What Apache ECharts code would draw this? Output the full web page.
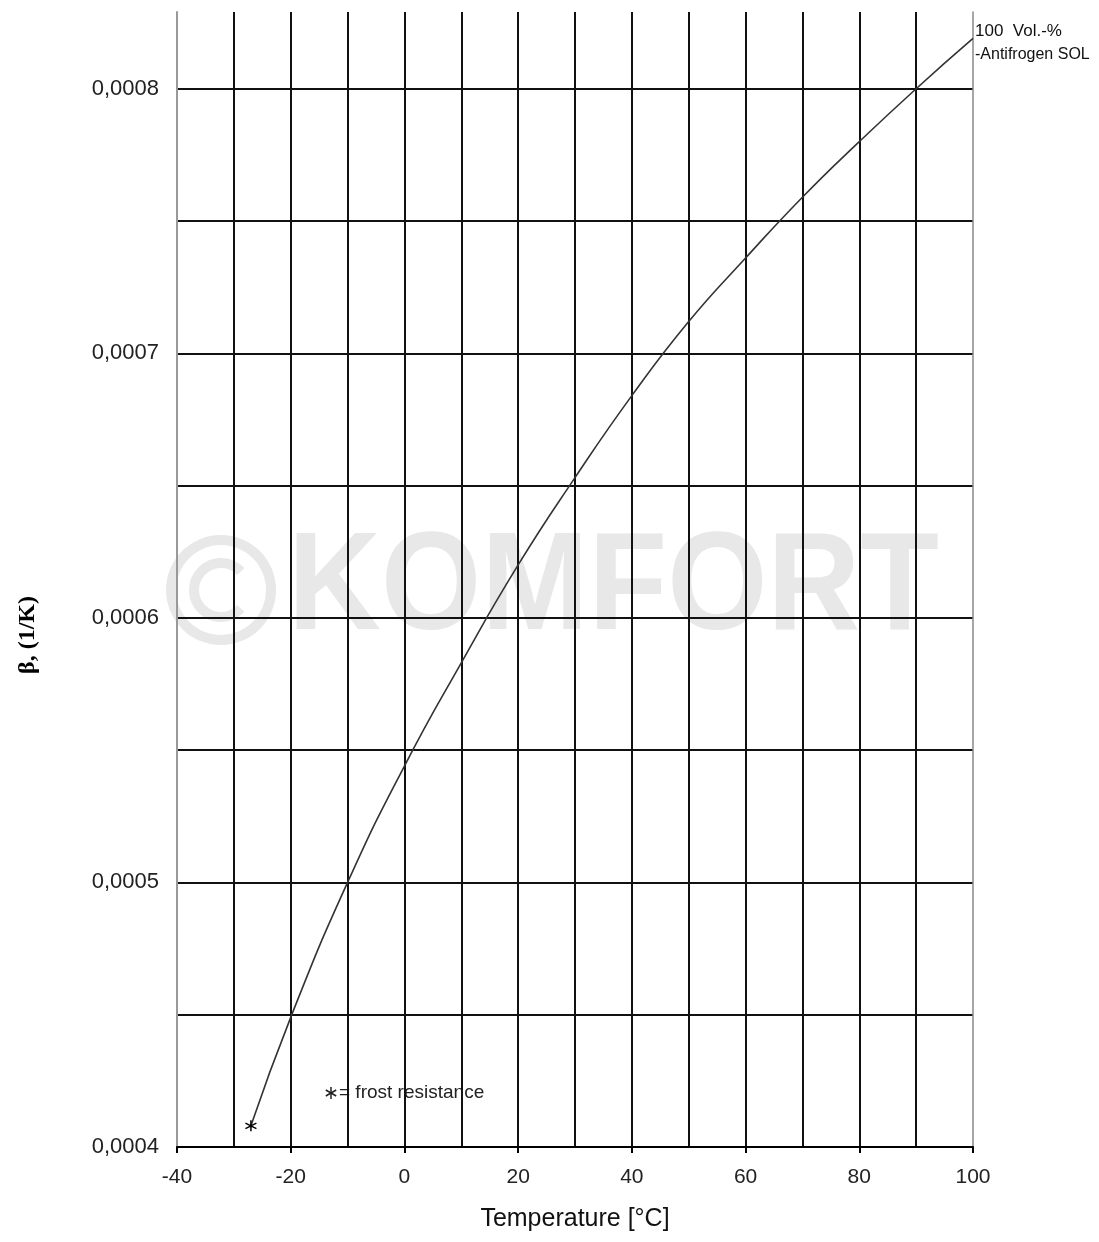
<!DOCTYPE html>
<html>
<head>
<meta charset="utf-8">
<title>Antifrogen SOL - beta</title>
<script src="https://cdn.jsdelivr.net/npm/echarts@6/dist/echarts.min.js"></script>
<style>
  html, body { margin: 0; padding: 0; background: #ffffff; }
  #chart { width: 1099px; height: 1242px; }
</style>
</head>
<body>
<div id="chart"></div>
<script>
// temperature (°C) and volume expansion coefficient beta (1/K)
const temperatures = [-27, -20, -10, 0, 10, 20, 30, 40, 50, 60, 70, 80, 90, 100];
const betaValues = [0.000408, 0.000449, 0.0005, 0.000544, 0.000583, 0.00062, 0.000653, 0.000684, 0.000712, 0.000736, 0.000759, 0.00078, 0.0008, 0.000819];

const seriesLabel = ['100  Vol.-%', '-Antifrogen SOL'];
const frostNote = '= frost resistance';
const yTitle = 'β, (1/K)';

const chart = echarts.init(document.getElementById('chart'));

const starPath = 'path://M0,-1L0,1M-0.87,-0.5L0.87,0.5M-0.87,0.5L0.87,-0.5';

const lineData = temperatures.map(function (t, i) {
    if (i === 0) {
        // erster Punkt = Frostgrenze, mit Stern
        return {
            value: [t, betaValues[i]],
            symbol: starPath,
            symbolSize: 11,
            itemStyle: { color: '#000', borderColor: '#000', borderWidth: 1.5 }
        };
    }
    return { value: [t, betaValues[i]], symbol: 'none' };
});

const option = {
    backgroundColor: '#ffffff',
    animation: false,
    grid: {
        left: 177,
        right: 126,
        top: 12,
        bottom: 95
    },
    xAxis: {
        type: 'value',
        min: -40,
        max: 100,
        interval: 20,
        name: 'Temperature [°C]',
        nameLocation: 'middle',
        nameGap: 60,
        nameTextStyle: { color: '#111', fontSize: 25, fontFamily: 'Liberation Sans' },
        axisLine: { show: true, onZero: false, lineStyle: { color: '#000', width: 2 } },
        axisTick: { show: true, length: 6, lineStyle: { color: '#000', width: 2 } },
        axisLabel: { color: '#222', fontSize: 21, fontFamily: 'Liberation Sans', margin: 20 },
        splitLine: { show: true, showMinLine: false, showMaxLine: false, lineStyle: { color: '#111', width: 2 } },
        minorTick: { show: false, splitNumber: 2 },
        minorSplitLine: { show: true, lineStyle: { color: '#111', width: 2 } }
    },
    yAxis: [{
        type: 'value',
        min: 0.0004,
        max: 0.000829,
        interval: 0.00005,
        axisLine: { show: true, onZero: false, lineStyle: { color: '#999', width: 2 } },
        axisTick: { show: false },
        axisLabel: {
            color: '#222',
            fontSize: 22,
            fontFamily: 'Liberation Sans',
            margin: 18,
            formatter: function (v) {
                const n = Math.round(v * 1e5);
                if (n % 10 !== 0) return '';
                return v.toFixed(4).replace('.', ',');
            }
        },
        splitLine: { show: true, showMinLine: false, showMaxLine: false, lineStyle: { color: '#111', width: 2 } }
    }, {
        type: 'value',
        position: 'right',
        min: 0.0004,
        max: 0.000829,
        interval: 0.00005,
        axisLine: { show: true, onZero: false, lineStyle: { color: '#888', width: 1.5 } },
        axisTick: { show: false },
        axisLabel: { show: false },
        splitLine: { show: false }
    }],
    graphic: [
        // Wasserzeichen
        {
            type: 'ring',
            z: -10,
            silent: true,
            shape: { cx: 221, cy: 590, r: 55, r0: 45 },
            style: { fill: '#e8e8e8' }
        },
        {
            type: 'arc',
            z: -10,
            silent: true,
            shape: { cx: 221, cy: 590, r: 27, startAngle: 0.75, endAngle: -0.75, clockwise: true },
            style: { fill: null, stroke: '#e8e8e8', lineWidth: 10 }
        },
        {
            type: 'text',
            z: -10,
            silent: true,
            x: 288,
            y: 590,
            scaleX: 0.92,
            style: {
                text: 'KOMFORT',
                fill: '#e8e8e8',
                font: 'bold 140px "Liberation Sans"',
                verticalAlign: 'middle'
            }
        },
        // y-Achsentitel
        {
            type: 'text',
            x: 28,
            y: 635,
            rotation: Math.PI / 2,
            style: {
                text: yTitle,
                fill: '#000',
                font: 'bold 24px "Liberation Serif"',
                align: 'center',
                verticalAlign: 'middle'
            }
        },
        // Kurvenbeschriftung oben rechts
        {
            type: 'text',
            x: 975,
            y: 31,
            style: { text: seriesLabel[0], fill: '#111', font: '17px "Liberation Sans"', verticalAlign: 'middle' }
        },
        {
            type: 'text',
            x: 975,
            y: 55,
            style: { text: seriesLabel[1], fill: '#111', font: '16px "Liberation Sans"', verticalAlign: 'middle' }
        },
        // Legende Stern
        {
            type: 'group',
            x: 331,
            y: 1093,
            children: [
                { type: 'line', shape: { x1: 0, y1: -6, x2: 0, y2: 6 }, style: { stroke: '#222', lineWidth: 1.5 } },
                { type: 'line', shape: { x1: -5.2, y1: -3, x2: 5.2, y2: 3 }, style: { stroke: '#222', lineWidth: 1.5 } },
                { type: 'line', shape: { x1: -5.2, y1: 3, x2: 5.2, y2: -3 }, style: { stroke: '#222', lineWidth: 1.5 } }
            ]
        },
        {
            type: 'text',
            x: 339,
            y: 1093,
            style: { text: frostNote, fill: '#222', font: '19px "Liberation Sans"', verticalAlign: 'middle' }
        }
    ],
    series: [{
        type: 'line',
        smooth: true,
        showSymbol: true,
        symbol: 'none',
        data: lineData,
        lineStyle: { color: '#333', width: 1.6 },
        z: 5
    }]
};

chart.setOption(option);
</script>
</body>
</html>
